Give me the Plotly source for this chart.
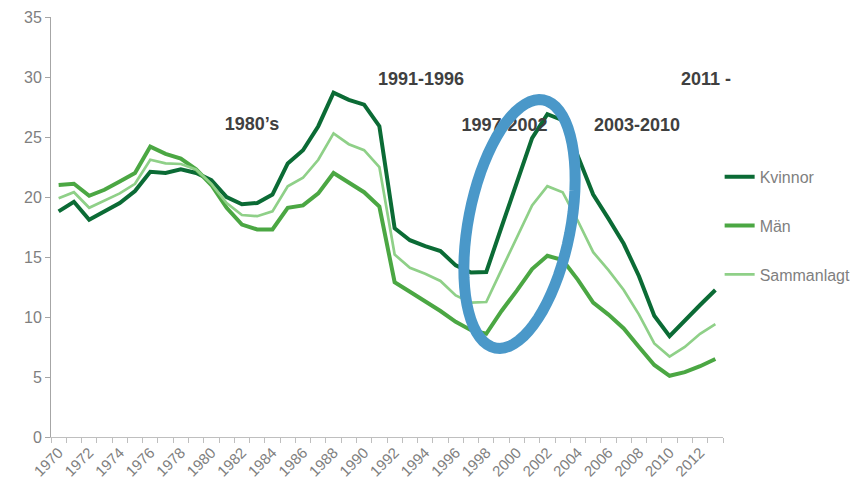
import math
import plotly.graph_objects as go

years = list(range(1970, 2014))
kvinnor = [18.8, 19.6, 18.1, 18.8, 19.5, 20.5, 22.1, 22.0, 22.3, 22.0,
           21.4, 20.0, 19.4, 19.5, 20.2, 22.8, 23.9, 25.9, 28.7, 28.1,
           27.7, 25.9, 17.4, 16.4, 15.9, 15.5, 14.3, 13.7, 13.75, 17.5,
           21.2, 24.9, 26.9, 26.4, 23.4, 20.2, 18.2, 16.1, 13.4, 10.1,
           8.4, 9.75, 11.0, 12.25]
man = [21.0, 21.1, 20.1, 20.6, 21.3, 22.0, 24.2, 23.6, 23.2, 22.3,
       21.0, 19.1, 17.7, 17.3, 17.3, 19.1, 19.3, 20.3, 22.0, 21.2,
       20.4, 19.2, 12.9, 12.1, 11.3, 10.5, 9.6, 8.9, 8.6, 10.5,
       12.2, 14.0, 15.1, 14.75, 13.1, 11.2, 10.2, 9.05, 7.5, 6.0,
       5.1, 5.4, 5.9, 6.5]
samm = [19.9, 20.4, 19.1, 19.7, 20.3, 21.1, 23.1, 22.8, 22.75, 22.3,
        21.1, 19.5, 18.5, 18.4, 18.8, 20.9, 21.6, 23.1, 25.3, 24.4,
        23.9, 22.5, 15.2, 14.1, 13.6, 13.0, 11.8, 11.2, 11.25, 13.95,
        16.6, 19.3, 20.9, 20.4, 18.0, 15.4, 13.9, 12.25, 10.2, 7.8,
        6.7, 7.5, 8.6, 9.4]
tick_years = list(range(1970, 2013, 2))
period_labels = ["1980’s", "1991-1996", "1997-2002", "2003-2010", "2011 -"]

FONT = "Liberation Sans, Arial, sans-serif"
# page body has an 8px margin, so the figure is drawn 8px in from top-left
OFF = 8
W, H = 861 - OFF, 485 - OFF
L, R, T, B = 51 - OFF, 138, 17 - OFF, 48
PW, PH = W - L - R, H - T - B


def px2paper(px, py):
    # px, py in screenshot pixels
    return (px - OFF - L) / PW, (H - B - (py - OFF)) / PH


fig = go.Figure()
fig.add_trace(go.Scatter(x=years, y=kvinnor, name="Kvinnor", mode="lines",
                         line=dict(color="#0b6b35", width=4), legendgroup="a"))
fig.add_trace(go.Scatter(x=years, y=man, name="Män", mode="lines",
                         line=dict(color="#4ba743", width=4), legendgroup="b"))
fig.add_trace(go.Scatter(x=years, y=samm, name="Sammanlagt", mode="lines",
                         line=dict(color="#8fd088", width=2.7), legendgroup="c"))

# period labels (text trace in a paper-like overlay so the ellipse can cover it)
label_px = [(252, 125), (421, 80), (504.5, 126), (637, 126), (706, 80)]
lx = [px2paper(*p)[0] for p in label_px]
ly = [px2paper(*p)[1] for p in label_px]
fig.add_trace(go.Scatter(x=lx, y=ly, text=["<b>%s</b>" % s for s in period_labels],
                         mode="text", textposition="middle center", cliponaxis=False,
                         textfont=dict(family=FONT, size=18, color="#404040"),
                         xaxis="x2", yaxis="y2", showlegend=False, hoverinfo="skip"))

# tilted ellipse highlight
cx, cy, a, b, th = 519.5, 224.0, 126.3, 51.1, math.radians(11)
ux, uy = math.sin(th), -math.cos(th)
vx, vy = math.cos(th), math.sin(th)
pts = []
for k in range(73):
    t = 2 * math.pi * k / 72
    px = cx + a * math.cos(t) * ux + b * math.sin(t) * vx
    py = cy + a * math.cos(t) * uy + b * math.sin(t) * vy
    pts.append(px2paper(px, py))
path = "M " + " L ".join("%.5f,%.5f" % p for p in pts) + " Z"
fig.add_shape(type="path", path=path, xref="paper", yref="paper",
              line=dict(color="#4a98c9", width=11), layer="above")

fig.update_layout(
    width=W, height=H,
    margin=dict(l=L, r=R, t=T, b=B, autoexpand=False),
    paper_bgcolor="white", plot_bgcolor="white",
    font=dict(family=FONT, color="#7f7f7f"),
    showlegend=True,
    legend=dict(x=0.995, xanchor="left", y=0.66, yanchor="top",
                font=dict(family=FONT, size=16, color="#7f7f7f"),
                tracegroupgap=25, bgcolor="rgba(0,0,0,0)"),
    xaxis=dict(range=[1969.5, 2013.5], tickmode="array", tickvals=tick_years,
               ticktext=[str(y) for y in tick_years], tickangle=-45,
               ticks="", showgrid=False, zeroline=False, showline=True,
               linecolor="#bfbfbf", linewidth=1, automargin=False,
               tickfont=dict(family=FONT, size=15, color="#7f7f7f"),
               minor=dict(tick0=1969.5, dtick=1, ticks="outside", ticklen=5,
                          tickcolor="#bfbfbf", showgrid=False)),
    yaxis=dict(range=[0, 35], dtick=5, ticks="outside", ticklen=5,
               tickcolor="#a6a6a6", showgrid=False, zeroline=False,
               showline=True, linecolor="#a6a6a6", linewidth=1, automargin=False,
               tickfont=dict(family=FONT, size=16, color="#7f7f7f")),
    xaxis2=dict(overlaying="x", range=[0, 1], visible=False),
    yaxis2=dict(overlaying="y", range=[0, 1], visible=False),
)

fig.write_html("out.html")
